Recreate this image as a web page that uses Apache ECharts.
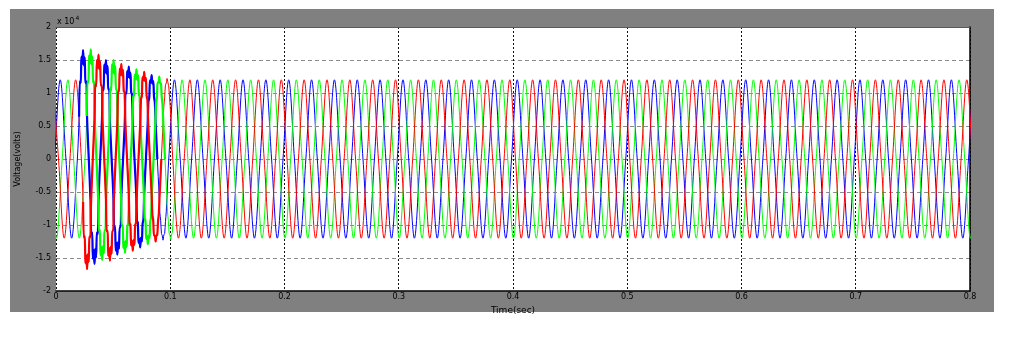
<!DOCTYPE html>
<html>
<head>
<meta charset="utf-8">
<script src="https://cdn.jsdelivr.net/npm/echarts@6/dist/echarts.min.js"></script>
<style>
html,body{margin:0;padding:0;background:#fff;}
#c{width:1021px;height:343px;}
</style>
</head>
<body>
<div id="c"></div>
<script>
// ---- data (voltage in units of 1e4 V) ----
const xTicks = ['0','0.1','0.2','0.3','0.4','0.5','0.6','0.7','0.8'];
const halfPeriod = 0.01;          // 50 Hz
// time of first listed extremum for each phase (s)
const blueStart = -0.0063;
const redStart = -0.0028;
const greenStart = -0.0096;
// successive half-cycle peak values
const blueExtrema = [
  -1.2, 1.2, -1.2, 1.65, -1.59, 1.5, -1.45, 1.4, -1.34, 1.27, -1.23,
  1.2, -1.2, 1.2, -1.2, 1.2, -1.2, 1.2, -1.2, 1.2, -1.2, 1.2, -1.2,
  1.2, -1.2, 1.2, -1.2, 1.2, -1.2, 1.2, -1.2, 1.2, -1.2, 1.2, -1.2,
  1.2, -1.2, 1.2, -1.2, 1.2, -1.2, 1.2, -1.2, 1.2, -1.2, 1.2, -1.2,
  1.2, -1.2, 1.2, -1.2, 1.2, -1.2, 1.2, -1.2, 1.2, -1.2, 1.2, -1.2,
  1.2, -1.2, 1.2, -1.2, 1.2, -1.2, 1.2, -1.2, 1.2, -1.2, 1.2, -1.2,
  1.2, -1.2, 1.2, -1.2, 1.2, -1.2, 1.2, -1.2, 1.2, -1.2, 1.2, -1.2
];
const redExtrema = [
  1.2, -1.2, 1.2, -1.67, 1.58, -1.54, 1.44, -1.39, 1.32, -1.25, 1.22,
  -1.2, 1.2, -1.2, 1.2, -1.2, 1.2, -1.2, 1.2, -1.2, 1.2, -1.2, 1.2,
  -1.2, 1.2, -1.2, 1.2, -1.2, 1.2, -1.2, 1.2, -1.2, 1.2, -1.2, 1.2,
  -1.2, 1.2, -1.2, 1.2, -1.2, 1.2, -1.2, 1.2, -1.2, 1.2, -1.2, 1.2,
  -1.2, 1.2, -1.2, 1.2, -1.2, 1.2, -1.2, 1.2, -1.2, 1.2, -1.2, 1.2,
  -1.2, 1.2, -1.2, 1.2, -1.2, 1.2, -1.2, 1.2, -1.2, 1.2, -1.2, 1.2,
  -1.2, 1.2, -1.2, 1.2, -1.2, 1.2, -1.2, 1.2, -1.2, 1.2, -1.2, 1.2
];
const greenExtrema = [
  1.2, -1.2, 1.2, -1.2, 1.66, -1.53, 1.5, -1.42, 1.36, -1.29, 1.25, -1.22,
  1.2, -1.2, 1.2, -1.2, 1.2, -1.2, 1.2, -1.2, 1.2, -1.2, 1.2,
  -1.2, 1.2, -1.2, 1.2, -1.2, 1.2, -1.2, 1.2, -1.2, 1.2, -1.2, 1.2,
  -1.2, 1.2, -1.2, 1.2, -1.2, 1.2, -1.2, 1.2, -1.2, 1.2, -1.2, 1.2,
  -1.2, 1.2, -1.2, 1.2, -1.2, 1.2, -1.2, 1.2, -1.2, 1.2, -1.2, 1.2,
  -1.2, 1.2, -1.2, 1.2, -1.2, 1.2, -1.2, 1.2, -1.2, 1.2, -1.2, 1.2,
  -1.2, 1.2, -1.2, 1.2, -1.2, 1.2, -1.2, 1.2, -1.2, 1.2, -1.2, 1.2
];
// jagged high-frequency ripple seen around the fault peaks [t(s), v]
const blueRipple = [
  [0.0202,0.64],[0.0209,1.18],[0.0216,1.15],[0.0223,1.55],[0.0230,1.44],[0.0244,1.42],[0.0251,1.54],[0.0258,1.15],[0.0265,1.18],[0.0272,0.62],
  [0.0302,-0.62],[0.0309,-1.14],[0.0316,-1.11],[0.0323,-1.51],[0.0330,-1.38],[0.0344,-1.36],[0.0351,-1.49],[0.0358,-1.11],[0.0365,-1.14],[0.0372,-0.62],
  [0.0402,0.58],[0.0409,1.08],[0.0416,1.04],[0.0423,1.43],[0.0430,1.31],[0.0444,1.29],[0.0451,1.41],[0.0458,1.05],[0.0465,1.06],[0.0472,0.58],
  [0.0502,-0.55],[0.0509,-1.03],[0.0516,-1.02],[0.0523,-1.39],[0.0530,-1.27],[0.0544,-1.26],[0.0551,-1.36],[0.0558,-1.03],[0.0565,-1.03],[0.0572,-0.56],
  [0.0602,0.55],[0.0609,1.00],[0.0616,0.99],[0.0623,1.33],[0.0630,1.24],[0.0644,1.23],[0.0651,1.31],[0.0658,1.01],[0.0665,0.98],[0.0672,0.55],
  [0.0702,-0.52],[0.0709,-0.94],[0.0716,-0.96],[0.0723,-1.27],[0.0730,-1.21],[0.0744,-1.19],[0.0751,-1.25],[0.0758,-0.98],[0.0765,-0.92],[0.0772,-0.53],
  [0.0802,0.52],[0.0809,0.87],[0.0816,0.92],[0.0823,1.19],[0.0830,1.16],[0.0844,1.14],[0.0851,1.18],[0.0858,0.94],[0.0865,0.86],[0.0872,0.54],
  [0.0902,-0.53],[0.0909,-0.82],[0.0916,-0.93],[0.0923,-1.13],[0.0930,-1.16],[0.0944,-1.15],[0.0951,-1.13],[0.0958,-0.95],[0.0965,-0.80],[0.0972,-0.55]
];
const redRipple = [
  [0.0237,-0.65],[0.0244,-1.19],[0.0251,-1.17],[0.0258,-1.58],[0.0265,-1.46],[0.0279,-1.44],[0.0286,-1.56],[0.0293,-1.17],[0.0300,-1.19],[0.0307,-0.65],
  [0.0337,0.61],[0.0344,1.13],[0.0351,1.10],[0.0358,1.50],[0.0365,1.38],[0.0379,1.36],[0.0386,1.48],[0.0393,1.11],[0.0400,1.12],[0.0407,0.61],
  [0.0437,-0.60],[0.0444,-1.10],[0.0451,-1.08],[0.0458,-1.47],[0.0465,-1.35],[0.0479,-1.33],[0.0486,-1.44],[0.0493,-1.09],[0.0500,-1.09],[0.0507,-0.60],
  [0.0537,0.56],[0.0544,1.02],[0.0551,1.02],[0.0558,1.37],[0.0565,1.27],[0.0579,1.26],[0.0586,1.35],[0.0593,1.03],[0.0600,1.01],[0.0607,0.56],
  [0.0637,-0.54],[0.0644,-0.98],[0.0651,-0.99],[0.0658,-1.31],[0.0665,-1.24],[0.0679,-1.23],[0.0686,-1.30],[0.0693,-1.00],[0.0700,-0.97],[0.0707,-0.55],
  [0.0737,0.53],[0.0744,0.91],[0.0751,0.95],[0.0758,1.24],[0.0765,1.19],[0.0779,1.18],[0.0786,1.23],[0.0793,0.96],[0.0800,0.90],[0.0807,0.54],
  [0.0837,-0.54],[0.0844,-0.85],[0.0851,-0.93],[0.0858,-1.16],[0.0865,-1.16],[0.0879,-1.16],[0.0886,-1.15],[0.0893,-0.95],[0.0900,-0.83],[0.0907,-0.55],
  [0.0937,0.54],[0.0944,0.80],[0.0951,0.93],[0.0958,1.12],[0.0965,1.15],[0.0979,1.16],[0.0986,1.11],[0.0993,0.95],[0.1000,0.78],[0.1007,0.55]
];
const greenRipple = [
  [0.0269,0.65],[0.0276,1.18],[0.0283,1.16],[0.0290,1.57],[0.0297,1.45],[0.0311,1.43],[0.0318,1.55],[0.0325,1.16],[0.0332,1.18],[0.0339,0.64],
  [0.0369,-0.60],[0.0376,-1.09],[0.0383,-1.07],[0.0390,-1.46],[0.0397,-1.34],[0.0411,-1.32],[0.0418,-1.43],[0.0425,-1.08],[0.0432,-1.08],[0.0439,-0.60],
  [0.0469,0.58],[0.0476,1.08],[0.0483,1.04],[0.0490,1.43],[0.0497,1.31],[0.0511,1.29],[0.0518,1.41],[0.0525,1.05],[0.0532,1.06],[0.0539,0.58],
  [0.0569,-0.56],[0.0576,-1.00],[0.0583,-1.00],[0.0590,-1.35],[0.0597,-1.25],[0.0611,-1.24],[0.0618,-1.33],[0.0625,-1.01],[0.0632,-0.99],[0.0639,-0.56],
  [0.0669,0.53],[0.0676,0.95],[0.0683,0.96],[0.0690,1.28],[0.0697,1.21],[0.0711,1.20],[0.0718,1.27],[0.0725,0.98],[0.0732,0.94],[0.0739,0.54],
  [0.0769,-0.53],[0.0776,-0.89],[0.0783,-0.94],[0.0790,-1.21],[0.0797,-1.17],[0.0811,-1.16],[0.0818,-1.20],[0.0825,-0.95],[0.0832,-0.88],[0.0839,-0.53],
  [0.0869,0.54],[0.0876,0.84],[0.0883,0.93],[0.0890,1.16],[0.0897,1.16],[0.0911,1.15],[0.0918,1.15],[0.0925,0.95],[0.0932,0.83],[0.0939,0.55],
  [0.0969,-0.54],[0.0976,-0.80],[0.0983,-0.93],[0.0990,-1.12],[0.0997,-1.15],[0.1011,-1.15],[0.1018,-1.11],[0.1025,-0.95],[0.1032,-0.78],[0.1039,-0.55]
];

// peaks + zero crossings (midway between successive peaks) + ripple samples
function wave(start, extrema, ripple) {
  const pts = [];
  for (let i = 0; i < extrema.length; i++) {
    const t = start + i * halfPeriod;
    pts.push([t, extrema[i]]);
    if (i < extrema.length - 1) pts.push([t + halfPeriod / 2, 0]);
  }
  return pts.concat(ripple).sort((a, b) => a[0] - b[0]);
}
function part(pts, a, b) { return pts.filter(p => p[0] >= a && p[0] <= b); }

const blue = wave(blueStart, blueExtrema, blueRipple);
const red = wave(redStart, redExtrema, redRipple);
const green = wave(greenStart, greenExtrema, greenRipple);

const chart = echarts.init(document.getElementById('c'), null, {renderer: 'canvas'});
const lineSeries = (name, data, color, w) => ({
  name, type: 'line', data, smooth: 0.35, showSymbol: false, symbol: 'none',
  clip: true, animation: false,
  lineStyle: {color, width: w}
});
chart.setOption({
  animation: false,
  backgroundColor: '#ffffff',
  graphic: [
    {type: 'rect', z: -2, shape: {x: 10, y: 9, width: 984, height: 303}, style: {fill: '#808080'}},
    {type: 'rect', z: -1, shape: {x: 56, y: 27, width: 914, height: 264}, style: {fill: '#ffffff'}},
    {type: 'text', z: 5, left: 57, top: 15,
     style: {text: '{a|x 10}{b|4}', rich: {
       a: {fontSize: 8, fill: '#000', fontFamily: 'DejaVu Sans', padding: [4,0,0,0]},
       b: {fontSize: 6, fill: '#000', fontFamily: 'DejaVu Sans', padding: [0,0,4,1]}
     }}}
  ],
  grid: {left: 56, right: 51, top: 27, bottom: 52, show: false},
  xAxis: [{
    type: 'value', min: 0, max: 0.8, interval: 0.1,
    name: 'Time(sec)', nameLocation: 'middle', nameGap: 9,
    nameTextStyle: {fontSize: 9, color: '#000', fontFamily: 'DejaVu Sans'},
    axisLine: {show: true, onZero: false, lineStyle: {color: '#000', width: 1.5}},
    axisTick: {show: false},
    axisLabel: {fontSize: 8, color: '#000', margin: 2, fontFamily: 'DejaVu Sans',
      formatter: (v) => xTicks[Math.round(v * 10)]},
    splitLine: {show: true, lineStyle: {color: '#111', type: [2, 2], width: 1}}
  }, {
    type: 'value', position: 'top', min: 0, max: 0.8,
    axisLine: {show: true, onZero: false, lineStyle: {color: '#5a5a5a', width: 1}},
    axisTick: {show: false}, axisLabel: {show: false}, splitLine: {show: false}
  }],
  yAxis: [{
    type: 'value', min: -2, max: 2, interval: 0.5,
    name: 'Voltage(volts)', nameLocation: 'middle', nameGap: 34, nameRotate: 90,
    nameTextStyle: {fontSize: 8, color: '#000', fontFamily: 'DejaVu Sans'},
    axisLine: {show: false, onZero: false}, axisTick: {show: false},
    axisLabel: {fontSize: 8, color: '#000', margin: 5, fontFamily: 'DejaVu Sans'},
    splitLine: {show: true, lineStyle: {color: '#8c8c8c', type: [4, 3], width: 1}}
  }, {
    type: 'value', position: 'right', min: -2, max: 2,
    axisLine: {show: true, onZero: false, lineStyle: {color: '#000', width: 1.5}},
    axisTick: {show: false}, axisLabel: {show: false}, splitLine: {show: false}
  }],
  series: [
    lineSeries('Vb', blue, '#0000ff', 1),
    lineSeries('Vc', green, '#00ff00', 1),
    lineSeries('Va', red, '#ff0000', 1),
    lineSeries('Vb fault', part(blue, 0.0195, 0.09), '#0000ff', 2.2),
    lineSeries('Vc fault', part(green, 0.026, 0.096), '#00ff00', 2.2),
    lineSeries('Va fault', part(red, 0.023, 0.093), '#ff0000', 2.2)
  ]
});
</script>
</body>
</html>
